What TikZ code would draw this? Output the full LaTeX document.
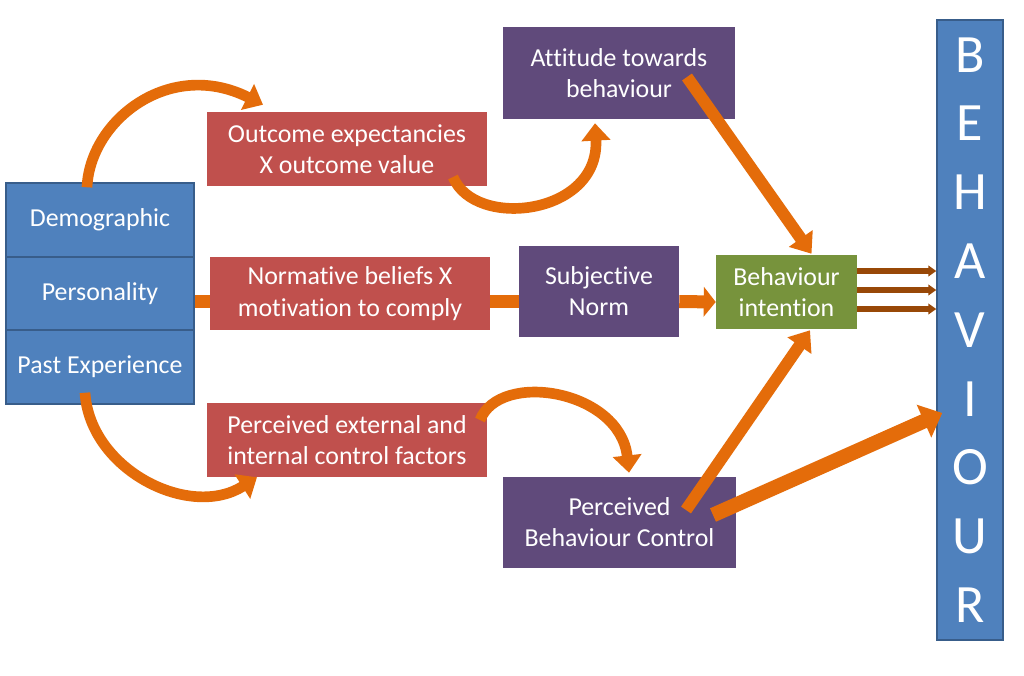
\documentclass[tikz,border=0pt]{standalone}
\usepackage{fontspec}
\setmainfont{Carlito}[Ligatures=NoCommon]
\usetikzlibrary{arrows.meta,calc}
\definecolor{boxblue}{HTML}{4F81BD}
\definecolor{blueedge}{HTML}{385D8A}
\definecolor{boxred}{HTML}{C0504D}
\definecolor{boxpurple}{HTML}{604A7B}
\definecolor{boxgreen}{HTML}{77933C}
\definecolor{arrorange}{HTML}{E46C0A}
\definecolor{arrbrown}{HTML}{984807}
\begin{document}
\begin{tikzpicture}[x=0.75pt,y=-0.75pt,
  box/.style={rectangle, inner sep=0pt, align=center, text=white,
    font=\fontsize{19.4}{23.4}\selectfont},
  bluebox/.style={box, fill=boxblue, draw=blueedge, line width=1.1pt},
  redbox/.style={box, fill=boxred},
  purplebox/.style={box, fill=boxpurple},
  greenbox/.style={box, fill=boxgreen},
  flatlink/.style={draw=arrorange, line width=9.75pt},
  flatarrow/.style={draw=arrorange, line width=9.75pt, -{Triangle[length=9pt,width=22pt]}},
  diagarrow/.style={draw=arrorange, line width=9pt, -{Triangle[length=14pt,width=21pt]}},
  bigarrow/.style={draw=arrorange, line width=11pt, -{Triangle[length=15pt,width=26pt]}},
  curvearrow/.style={draw=arrorange, line width=8pt, -{Triangle[length=13pt,width=21pt]}},
  brownarrow/.style={draw=arrbrown, line width=4.5pt, -{Triangle[length=6pt,width=8pt]}}
]
\useasboundingbox (0,0) rectangle (1024,675);
\fill[white] (0,0) rectangle (1024,675);

% left stack
\node[bluebox, minimum width=141pt, minimum height=55.5pt] (dem) at (100,220) {Demographic};
\node[bluebox, minimum width=141pt, minimum height=54.75pt] (per) at (100,293.5) {Personality};
\node[bluebox, minimum width=141pt, minimum height=55.5pt] (past) at (100,367) {Past Experience};

% middle column
\node[redbox, minimum width=210pt, minimum height=55.5pt] (oe) at (347,149) {Outcome expectancies\\X outcome value};
\node[redbox, minimum width=210pt, minimum height=54.75pt] (nb) at (350,293.5) {Normative beliefs X\\motivation to comply};
\node[redbox, minimum width=210pt, minimum height=55.5pt] (pe) at (347,440) {Perceived external and\\internal control factors};

% purple column
\node[purplebox, minimum width=174pt, minimum height=69pt] (att) at (619,73) {Attitude towards\\behaviour};
\node[purplebox, minimum width=120pt, minimum height=68.25pt] (sn) at (599,291.5) {Subjective\\Norm};
\node[purplebox, minimum width=174.75pt, minimum height=68.25pt] (pbc) at (619.5,522.5) {Perceived\\Behaviour Control};

% intention
\node[greenbox, minimum width=105.75pt, minimum height=55.5pt] (bi) at (786.5,292) {Behaviour\\intention};

% behaviour column
\node[bluebox, minimum width=49.5pt, minimum height=465pt,
  font=\fontsize{40.5}{51.6}\selectfont] (beh) at (970,330) {B\\E\\H\\A\\V\\I\\O\\U\\R};

% straight links
\draw[flatlink] ($(per.east)+(0,8)$) -- ($(nb.west)+(0,8)$);
\draw[flatlink] ($(nb.east)+(0,8)$) -- ($(sn.west)+(0,10)$);
\draw[flatarrow] ($(sn.east)+(0,10)$) -- ($(bi.west)+(0,10)$);

% diagonal arrows
\draw[diagarrow] ($(att.center)+(68,4)$) -- ($(bi.north)+(25,-1)$);
\draw[diagarrow] ($(pbc.center)+(66.5,-12.5)$) -- ($(bi.south)+(23.5,1)$);
\draw[bigarrow] ($(pbc.center)+(93.5,-7.5)$) -- ($(beh.west)+(6,83)$);

% brown arrows
\foreach \dy [count=\i] in {-21,-2,17} {
  \coordinate (bs\i) at ($(bi.east)+(0,\dy)$);
  \draw[brownarrow] (bs\i) -- (bs\i -| beh.west);
}

% curved arrows
\draw[curvearrow] ($(dem.north)+(-13,5)$) .. controls (90,120) and (170,58) .. ($(oe.north)+(-84,-7)$);
\draw[curvearrow] ($(oe.center)+(106,28)$) .. controls (475,230) and (600,215) .. ($(att.south)+(-24,4)$);
\draw[curvearrow] ($(past.south)+(-15,-12)$) .. controls (90,470) and (190,520) .. ($(pe.south)+(-90,0)$);
\draw[curvearrow] ($(pe.center)+(133,-20)$) .. controls (500,370) and (620,390) .. ($(pbc.north)+(9.5,-4)$);
\end{tikzpicture}
\end{document}
